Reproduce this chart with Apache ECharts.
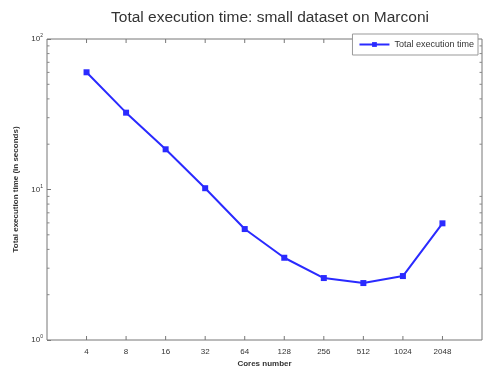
<!DOCTYPE html>
<html>
<head>
<meta charset="utf-8">
<script src="https://cdn.jsdelivr.net/npm/echarts@6/dist/echarts.min.js"></script>
<style>
  html, body { margin: 0; padding: 0; background: #fff; }
  #container { width: 483px; height: 374px; }
</style>
</head>
<body>
<div id="container"></div>
<script>
let cores = [4, 8, 16, 32, 64, 128, 256, 512, 1024, 2048];
let execTime = [60.1, 32.4, 18.5, 10.2, 5.46, 3.52, 2.58, 2.39, 2.66, 5.96];
let minorTicksY = [2, 3, 4, 5, 6, 7, 8, 9, 20, 30, 40, 50, 60, 70, 80, 90];

let dom = document.getElementById("container");
let myChart = echarts.init(dom, null, {
  renderer: "canvas",
});

const font = "Liberation Sans";
const xMin = 2;
const xMax = 4096;

let option = {
  animation: false,
  title: {
    text: "Total execution time: small dataset on Marconi",
    left: 265,
    textAlign: "center",
    top: 5,
    textStyle: {
      fontFamily: font,
      fontSize: 15.5,
      fontWeight: "normal",
      color: "#333",
    },
  },
  legend: {
    right: 5,
    top: 34,
    orient: "vertical",
    padding: [6, 4, 6, 6],
    backgroundColor: "#fff",
    borderColor: "#999",
    borderWidth: 1,
    borderRadius: 0,
    itemWidth: 30,
    itemHeight: 6,
    itemGap: 4,
    textStyle: { fontFamily: font, fontSize: 9, color: "#333" },
    data: ["Total execution time"],
    z: 10,
  },
  grid: {
    left: 47,
    right: 1,
    top: 39,
    bottom: 34,
    show: true,
    borderColor: "#777",
    borderWidth: 1,
  },
  xAxis: {
    type: "log",
    logBase: 2,
    min: xMin,
    max: xMax,
    name: "Cores number",
    nameLocation: "middle",
    nameGap: 20,
    nameTextStyle: { fontFamily: font, fontSize: 8, fontWeight: "bold", color: "#333" },
    axisLine: { show: false },
    axisTick: { show: false },
    axisLabel: { show: false },
    splitLine: { show: false },
  },
  yAxis: {
    type: "log",
    logBase: 10,
    min: 1,
    max: 100,
    name: "Total execution time (in seconds)",
    nameLocation: "middle",
    nameGap: 27,
    nameTextStyle: { fontFamily: font, fontSize: 8, fontWeight: "bold", color: "#333" },
    axisLine: { show: false },
    axisTick: {
      inside: true,
      length: 4,
      lineStyle: { color: "#777" },
    },
    axisLabel: {
      margin: 4,
      formatter: (v) => "{b|10}{s|" + Math.round(Math.log10(v)) + "}",
      rich: {
        b: { fontFamily: font, fontSize: 8, color: "#333" },
        s: { fontFamily: font, fontSize: 5, color: "#333", verticalAlign: "top", padding: [0, 0, 6, 0] },
      },
    },
    splitLine: { show: false },
  },
  series: [
    {
      name: "Total execution time",
      type: "line",
      data: cores.map((c, i) => [c, execTime[i]]),
      symbol: "rect",
      symbolSize: 6,
      lineStyle: { color: "#2a2aff", width: 2 },
      itemStyle: { color: "#2a2aff" },
      z: 3,
    },
    {
      // minor ticks on left and right edges
      type: "custom",
      silent: true,
      data: minorTicksY,
      renderItem: (params, api) => {
        const v = api.value(0);
        const l = api.coord([xMin, v]);
        const r = api.coord([xMax, v]);
        return {
          type: "group",
          children: [
            { type: "line", shape: { x1: l[0], y1: l[1], x2: l[0] + 2.5, y2: l[1] }, style: { stroke: "#888", lineWidth: 1 } },
            { type: "line", shape: { x1: r[0], y1: r[1], x2: r[0] - 2.5, y2: r[1] }, style: { stroke: "#888", lineWidth: 1 } },
          ],
        };
      },
      encode: { y: 0 },
    },
    {
      // x ticks (top and bottom) and x tick labels
      type: "custom",
      silent: true,
      data: cores,
      renderItem: (params, api) => {
        const c = api.value(0);
        const t = api.coord([c, 100]);
        const b = api.coord([c, 1]);
        return {
          type: "group",
          children: [
            { type: "line", shape: { x1: t[0], y1: t[1], x2: t[0], y2: t[1] + 4 }, style: { stroke: "#777", lineWidth: 1 } },
            { type: "line", shape: { x1: b[0], y1: b[1], x2: b[0], y2: b[1] - 4 }, style: { stroke: "#777", lineWidth: 1 } },
            {
              type: "text",
              x: b[0],
              y: b[1] + 8,
              style: {
                text: String(c),
                fontFamily: font,
                fontSize: 8,
                fill: "#333",
                align: "center",
                verticalAlign: "top",
              },
            },
          ],
        };
      },
      encode: { x: 0 },
      clip: false,
    },
  ],
};

if (option && typeof option === "object") {
  myChart.setOption(option);
}

window.addEventListener("resize", myChart.resize);
</script>
</body>
</html>
